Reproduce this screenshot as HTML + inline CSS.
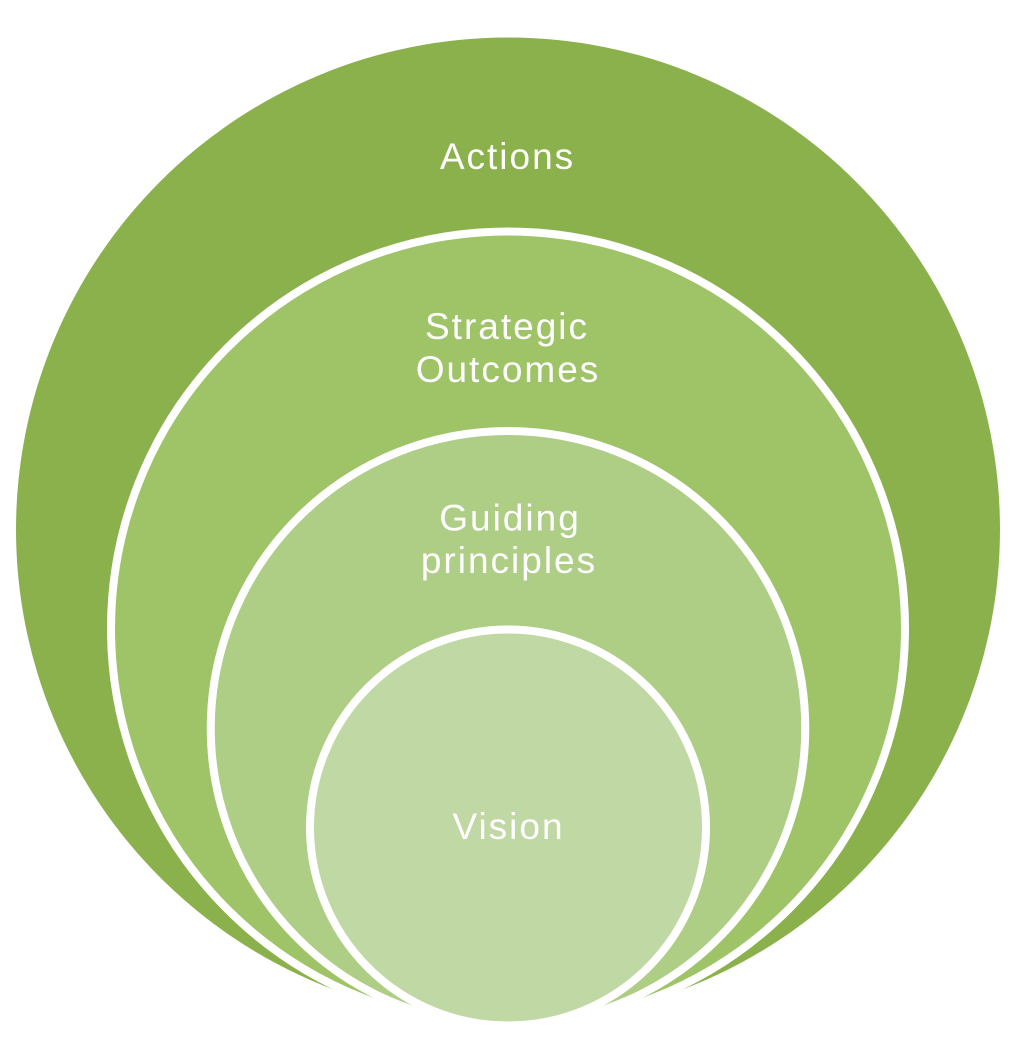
<!DOCTYPE html>
<html>
<head>
<meta charset="utf-8">
<style>
  html, body { margin: 0; padding: 0; background: #ffffff; }
  body { width: 1018px; height: 1040px; overflow: hidden; }
  svg { display: block; }
  text { font-family: "Liberation Sans", "DejaVu Sans", sans-serif; font-size: 37px; fill: #ffffff; letter-spacing: 2px; }
</style>
</head>
<body>
<svg width="1018" height="1040" viewBox="0 0 1018 1040" xmlns="http://www.w3.org/2000/svg">
  <rect x="0" y="0" width="1018" height="1040" fill="#ffffff"/>
  <!-- Outer: Actions -->
  <circle cx="508" cy="529.5" r="492" fill="#8BB14C"/>
  <!-- Strategic Outcomes -->
  <circle cx="508" cy="628.5" r="397" fill="#9EC467" stroke="#ffffff" stroke-width="8"/>
  <!-- Guiding principles -->
  <circle cx="508" cy="728.25" r="297.25" fill="#AECD85" stroke="#ffffff" stroke-width="8"/>
  <!-- Vision -->
  <circle cx="508" cy="827.5" r="198" fill="#C0D8A3" stroke="#ffffff" stroke-width="8"/>

  <text x="507.5" y="169" text-anchor="middle">Actions</text>
  <text x="507" y="339" text-anchor="middle">Strategic</text>
  <text x="508" y="382" text-anchor="middle">Outcomes</text>
  <text x="510" y="530.5" text-anchor="middle">Guiding</text>
  <text x="509" y="573" text-anchor="middle">principles</text>
  <text x="508.5" y="839" text-anchor="middle">Vision</text>
</svg>
</body>
</html>
